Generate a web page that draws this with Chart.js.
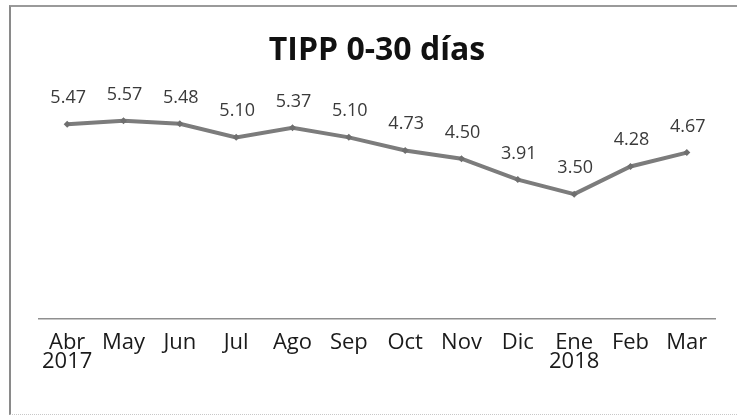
<!DOCTYPE html>
<html>
<head>
<meta charset="utf-8">
<script src="https://cdn.jsdelivr.net/npm/chart.js@4.4.0/dist/chart.umd.min.js"></script>
<style>
  html, body { margin: 0; padding: 0; background: #fff; }
  #wrap { position: relative; width: 737px; height: 417px; }
  #frame { position: absolute; left: 9px; top: 5px; width: 728px; height: 410px;
           border-left: 2px solid #8a8a8a; border-top: 2px solid #9a9a9a;
           border-bottom: 1px dotted #c8c8c8; pointer-events: none; box-sizing: border-box; }
  canvas { position: absolute; left: 0; top: 0; }
</style>
</head>
<body>
<div id="wrap">
  <canvas id="tipp" width="737" height="417"></canvas>
  <div id="frame"></div>
</div>
<script>
const months = ['Abr', 'May', 'Jun', 'Jul', 'Ago', 'Sep', 'Oct', 'Nov', 'Dic', 'Ene', 'Feb', 'Mar'];
const years = ['2017', '', '', '', '', '', '', '', '', '2018', '', ''];
const tipp = [5.47, 5.57, 5.48, 5.10, 5.37, 5.10, 4.73, 4.50, 3.91, 3.50, 4.28, 4.67];

const labels = months.map((m, i) => [m, years[i]]);

// draws the value above each point, like the data labels in the original
const valueLabels = {
    id: 'valueLabels',
    afterDatasetsDraw(chart) {
        const ctx = chart.ctx;
        const meta = chart.getDatasetMeta(0);
        ctx.save();
        ctx.font = '18px "Open Sans"';
        ctx.fillStyle = '#3a3a3a';
        ctx.textAlign = 'center';
        ctx.textBaseline = 'alphabetic';
        meta.data.forEach((pt, i) => {
            ctx.fillText(tipp[i].toFixed(2), pt.x + 1, pt.y - 21);
        });
        ctx.restore();
    }
};

new Chart(document.getElementById('tipp'), {
    type: 'line',
    data: {
        labels: labels,
        datasets: [{
            data: tipp,
            borderColor: '#7c7c7c',
            backgroundColor: '#6f6f6f',
            borderWidth: 4,
            pointStyle: 'rectRot',
            pointRadius: 3.5,
            pointBorderWidth: 0,
            tension: 0
        }]
    },
    options: {
        responsive: false,
        animation: false,
        layout: { padding: { left: 39, right: 22, top: 0, bottom: 31 } },
        plugins: {
            legend: { display: false },
            tooltip: { enabled: false },
            title: {
                display: true,
                text: 'TIPP 0-30 días',
                color: '#111',
                font: { family: 'Open Sans', size: 32, weight: 'bold', lineHeight: 1.2 },
                padding: { top: 32, bottom: 35 }
            }
        },
        scales: {
            x: {
                offset: true,
                grid: { display: false, drawTicks: false },
                border: { display: true, color: '#8f8f8f', width: 1.5 },
                ticks: {
                    color: '#1a1a1a',
                    padding: 14,
                    maxRotation: 0,
                    autoSkip: false,
                    font: { family: 'Open Sans', size: 22, lineHeight: 0.9 }
                }
            },
            y: { display: false, min: 0, max: 6 }
        }
    },
    plugins: [valueLabels]
});
</script>
</body>
</html>
